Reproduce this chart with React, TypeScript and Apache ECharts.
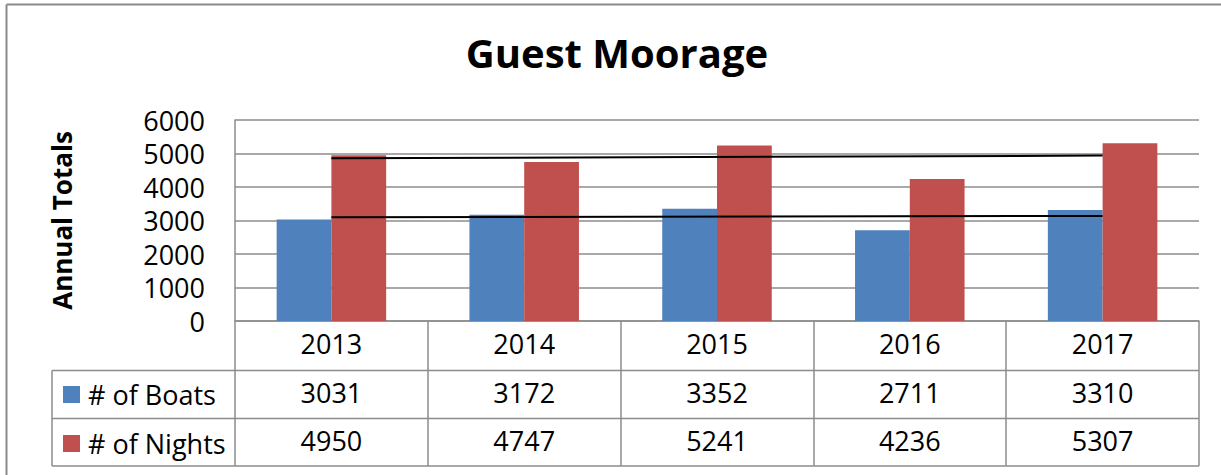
import React, { useEffect, useRef } from "react";
import * as echarts from "echarts";

const years = ["2013", "2014", "2015", "2016", "2017"];
const boats = [3031, 3172, 3352, 2711, 3310];
const nights = [4950, 4747, 5241, 4236, 5307];
// linear trend line end points (first and last year)
const boatsTrend = [3096, 3135];
const nightsTrend = [4856, 4937];
const seriesNames = ["# of Boats", "# of Nights"];

const GRID = "#8c8c8c";
const FONT = "Open Sans";

export default function App() {
  const ref = useRef<HTMLDivElement>(null);
  useEffect(() => {
    const chart = echarts.init(ref.current!, null, { renderer: "svg" });
    const labelStyle = { fontSize: 27, color: "#000", fontFamily: FONT, margin: 9 };
    const hLine = (y: number) => ({
      type: "line",
      shape: { x1: 52, y1: y, x2: 1199, y2: y },
      style: { stroke: GRID, lineWidth: 1.5 },
      silent: true,
    });
    chart.setOption({
      animation: false,
      textStyle: { fontFamily: FONT },
      grid: { left: 235, right: 22, top: 120, bottom: 154, containLabel: false },
      legend: {
        data: seriesNames,
        orient: "vertical",
        left: 63,
        top: 381,
        padding: 0,
        itemWidth: 17,
        itemHeight: 17,
        itemGap: 22,
        icon: "rect",
        textStyle: { fontSize: 27, lineHeight: 26, color: "#000", fontFamily: FONT, padding: [0, 0, 0, 3] },
      },
      xAxis: [
        {
          type: "category",
          data: years,
          axisLine: { lineStyle: { color: GRID, width: 1.5 } },
          axisTick: { show: true, length: 145, interval: 0, alignWithLabel: false, lineStyle: { color: GRID, width: 1.5 } },
          axisLabel: labelStyle,
        },
        {
          type: "category",
          data: boats.map(String),
          position: "bottom",
          offset: 49,
          axisLine: { show: false },
          axisTick: { show: false },
          axisLabel: labelStyle,
        },
        {
          type: "category",
          data: nights.map(String),
          position: "bottom",
          offset: 97,
          axisLine: { show: false },
          axisTick: { show: false },
          axisLabel: labelStyle,
        },
      ],
      yAxis: {
        type: "value",
        min: 0,
        max: 6000,
        interval: 1000,
        axisLine: { show: true, lineStyle: { color: GRID, width: 1.5 } },
        axisTick: { show: false },
        splitLine: { lineStyle: { color: GRID, width: 1.5 } },
        axisLabel: { fontSize: 27, color: "#000", fontFamily: FONT, margin: 30, formatter: (v: number) => String(v) },
        name: "Annual Totals",
        nameLocation: "middle",
        nameGap: 160,
        nameRotate: 90,
        nameTextStyle: { fontSize: 26, fontWeight: "bold", color: "#000", fontFamily: FONT },
      },
      series: [
        { name: seriesNames[0], type: "bar", data: boats, barWidth: "28.4%", barGap: "0%", itemStyle: { color: "#4F81BD" } },
        { name: seriesNames[1], type: "bar", data: nights, barWidth: "28.4%", barGap: "0%", itemStyle: { color: "#C0504D" } },
        {
          name: "Boats trend",
          type: "line",
          data: [[0, boatsTrend[0]], [4, boatsTrend[1]]],
          symbol: "none",
          lineStyle: { color: "#000", width: 2 },
          z: 5,
        },
        {
          name: "Nights trend",
          type: "line",
          data: [[0, nightsTrend[0]], [4, nightsTrend[1]]],
          symbol: "none",
          lineStyle: { color: "#000", width: 2 },
          z: 5,
        },
      ],
      graphic: [
        { type: "line", shape: { x1: 6.5, y1: 4.5, x2: 1221, y2: 4.5 }, style: { stroke: "#8a8a8a", lineWidth: 2 }, silent: true },
        { type: "line", shape: { x1: 6.5, y1: 4.5, x2: 6.5, y2: 475 }, style: { stroke: "#8a8a8a", lineWidth: 2 }, silent: true },
        hLine(370.5),
        hLine(418.5),
        hLine(466),
        { type: "line", shape: { x1: 52, y1: 370.5, x2: 52, y2: 466 }, style: { stroke: GRID, lineWidth: 1.5 }, silent: true },
        {
          type: "text",
          x: 617,
          y: 52.5,
          style: { text: "Guest Moorage", fontSize: 40, fontWeight: "bold", fontFamily: FONT, fill: "#000", textAlign: "center", textVerticalAlign: "middle" },
          silent: true,
        },
      ],
    });
    return () => chart.dispose();
  }, []);
  return <div ref={ref} style={{ position: "fixed", left: 0, top: 0, width: 1221, height: 475, background: "#fff" }} />;
}
